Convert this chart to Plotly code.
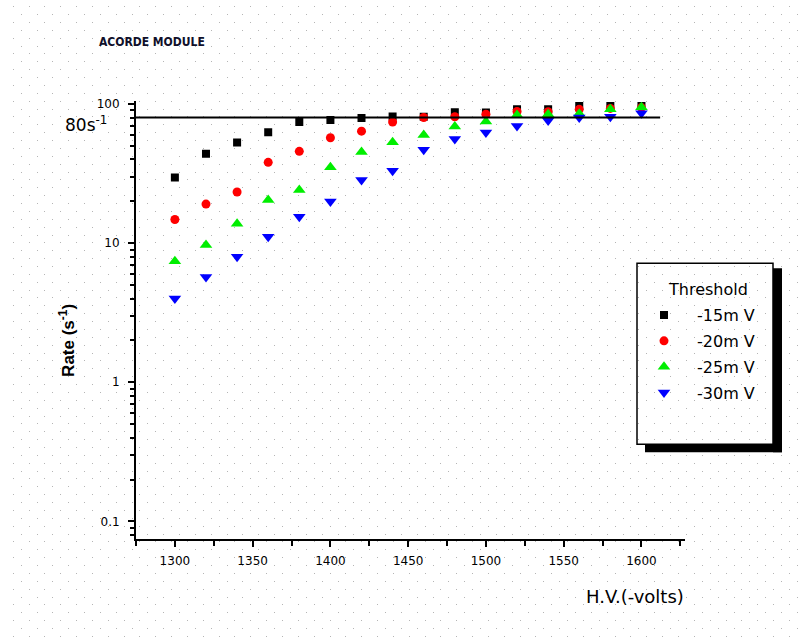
import plotly.graph_objects as go

# ---------------- data ----------------
HV = [1300, 1320, 1340, 1360, 1380, 1400, 1420, 1440,
      1460, 1480, 1500, 1520, 1540, 1560, 1580, 1600]
RATE_15 = [29.6, 44.0, 53.0, 62.8, 74.3, 76.9, 79.4, 81.3,
           81.0, 87.3, 87.0, 91.6, 91.6, 96.8, 96.8, 96.8]
RATE_20 = [14.8, 19.1, 23.3, 38.1, 45.7, 57.2, 63.8, 74.3,
           80.0, 81.0, 84.4, 88.3, 88.0, 91.6, 93.0, 94.3]
RATE_25 = [7.4, 9.7, 13.8, 20.4, 24.1, 35.1, 45.2, 53.2,
           60.0, 69.0, 74.9, 83.5, 84.4, 85.0, 91.6, 94.7]
RATE_30 = [4.0, 5.7, 8.0, 11.1, 15.5, 19.9, 28.4, 33.1,
           46.9, 56.0, 62.3, 69.6, 76.1, 80.0, 81.0, 85.8]
SERIES_NAMES = ["-15m V", "-20m V", "-25m V", "-30m V"]
REF_RATE = 80            # horizontal reference line (s^-1)
REF_HV_END = 1612        # where the reference line stops
X_TICKS = [1300, 1350, 1400, 1450, 1500, 1550, 1600]
Y_TICKS = [0.1, 1, 10, 100]
Y_TICK_TEXT = ["0.1", "1", "10", "100"]

W, H = 804, 642
def fx(p):  # pixel x -> paper
    return p / W
def fy(p):  # pixel y (from top) -> paper
    return 1 - p / H

FONT = "DejaVu Sans, Liberation Sans, Arial, sans-serif"
DOT = "#b5b5b5"

fig = go.Figure()

# empty traces so the two background "dot" subplots exist
fig.add_trace(go.Scatter(x=[], y=[], xaxis="x", yaxis="y", showlegend=False))
fig.add_trace(go.Scatter(x=[], y=[], xaxis="x2", yaxis="y2", showlegend=False))

styles = [
    dict(symbol="square", color="#000000", size=8),
    dict(symbol="circle", color="#ff0000", size=9),
    dict(symbol="triangle-up", color="#00ee00", size=11),
    dict(symbol="triangle-down", color="#0000ff", size=11),
]
for name, vals, st, g in zip(SERIES_NAMES, [RATE_15, RATE_20, RATE_25, RATE_30],
                              styles, ["a", "b", "c", "d"]):
    fig.add_trace(go.Scatter(
        x=HV, y=vals, mode="markers", name=name, legendgroup=g,
        xaxis="x3", yaxis="y3",
        marker=dict(symbol=st["symbol"], color=st["color"], size=st["size"],
                    line=dict(width=0)),
    ))

hidden_x = dict(showgrid=False, zeroline=False, showline=False, ticks="",
                showticklabels=False, range=[0, 1], fixedrange=True)
def dot_y(anchor, tick0):
    return dict(anchor=anchor, range=[H, 0], tickmode="linear", tick0=tick0,
                dtick=15.84, showgrid=True, gridcolor=DOT, gridwidth=1,
                griddash="1px,14.84px", zeroline=False, showline=False,
                ticks="", showticklabels=False, fixedrange=True)

fig.update_layout(
    width=W, height=H,
    margin=dict(l=0, r=0, t=0, b=0),
    paper_bgcolor="white", plot_bgcolor="rgba(0,0,0,0)",
    xaxis=dict(hidden_x, domain=[fx(20.7), 1], anchor="y"),
    yaxis=dot_y("x", 10.7),
    xaxis2=dict(hidden_x, domain=[fx(12.7), 1], anchor="y2"),
    yaxis2=dot_y("x2", 18.6),
    xaxis3=dict(
        domain=[fx(136), fx(685)], anchor="y3", range=[1275, 1628],
        tickmode="array", tickvals=X_TICKS,
        showline=True, linecolor="black", linewidth=2, mirror=False,
        ticks="outside", ticklen=6, tickwidth=1.5, tickcolor="black",
        minor=dict(ticks="outside", dtick=25, tick0=1300, ticklen=5,
                   tickwidth=1.5, tickcolor="black", showgrid=False),
        showgrid=False, zeroline=False,
        tickfont=dict(family=FONT, size=12, color="black"),
        ticklabelstandoff=4,
    ),
    yaxis3=dict(
        domain=[fy(538), fy(98)], anchor="x3", type="log",
        range=[-1.124, 2.019],
        tickmode="array", tickvals=Y_TICKS, ticktext=Y_TICK_TEXT,
        showline=True, linecolor="black", linewidth=2,
        ticks="outside", ticklen=6, tickwidth=1.5, tickcolor="black",
        minor=dict(ticks="outside", dtick="D1", ticklen=4, tickwidth=1.5,
                   tickcolor="black", showgrid=False),
        showgrid=False, zeroline=False,
        tickfont=dict(family=FONT, size=12, color="black"),
        ticklabelstandoff=6,
    ),
    showlegend=True,
    legend=dict(
        x=fx(631), y=fy(296), xanchor="left", yanchor="top",
        bgcolor="rgba(0,0,0,0)", borderwidth=0,
        font=dict(family=FONT, size=16, color="black"),
        traceorder="grouped", tracegroupgap=2, itemwidth=56,
    ),
)

# reference line at 80 s^-1
fig.add_shape(type="line", xref="x3", yref="y3", x0=1275, x1=REF_HV_END,
              y0=REF_RATE, y1=REF_RATE, line=dict(color="black", width=2),
              layer="above")

# legend box + drop shadow
fig.add_shape(type="rect", xref="paper", yref="paper",
              x0=fx(773), x1=fx(782), y0=fy(266), y1=fy(451),
              fillcolor="black", line=dict(width=0), layer="above")
fig.add_shape(type="rect", xref="paper", yref="paper",
              x0=fx(645), x1=fx(782), y0=fy(443), y1=fy(451),
              fillcolor="black", line=dict(width=0), layer="above")
fig.add_shape(type="rect", xref="paper", yref="paper",
              x0=fx(637), x1=fx(773), y0=fy(261), y1=fy(443),
              line=dict(color="black", width=1.5), layer="above")

ann = [
    dict(text="<b>ACORDE MODULE</b>", x=fx(97), y=fy(38), xanchor="left",
         yanchor="middle",
         font=dict(family="Liberation Sans Narrow, DejaVu Sans Condensed, Liberation Sans",
                   size=12, color="#10102a")),
    dict(text="80s<sup>-1</sup>", x=fx(109), y=fy(121), xanchor="right",
         yanchor="middle", font=dict(family=FONT, size=17, color="black")),
    dict(text="<b>Rate (s<sup>-1</sup>)</b>", x=fx(67), y=fy(339),
         xanchor="center", yanchor="middle", textangle=-90,
         font=dict(family="Liberation Sans, Arial, sans-serif", size=17, color="black")),
    dict(text="H.V.(-volts)", x=fx(686), y=fy(596), xanchor="right",
         yanchor="middle", font=dict(family=FONT, size=18, color="black")),
    dict(text="Threshold", x=fx(708), y=fy(287), xanchor="center",
         yanchor="middle", font=dict(family=FONT, size=16, color="black")),
]
for a in ann:
    fig.add_annotation(xref="paper", yref="paper", showarrow=False, **a)

fig.write_html("out.html", config={"displayModeBar": False},
               post_script="document.body.style.margin='0';")
